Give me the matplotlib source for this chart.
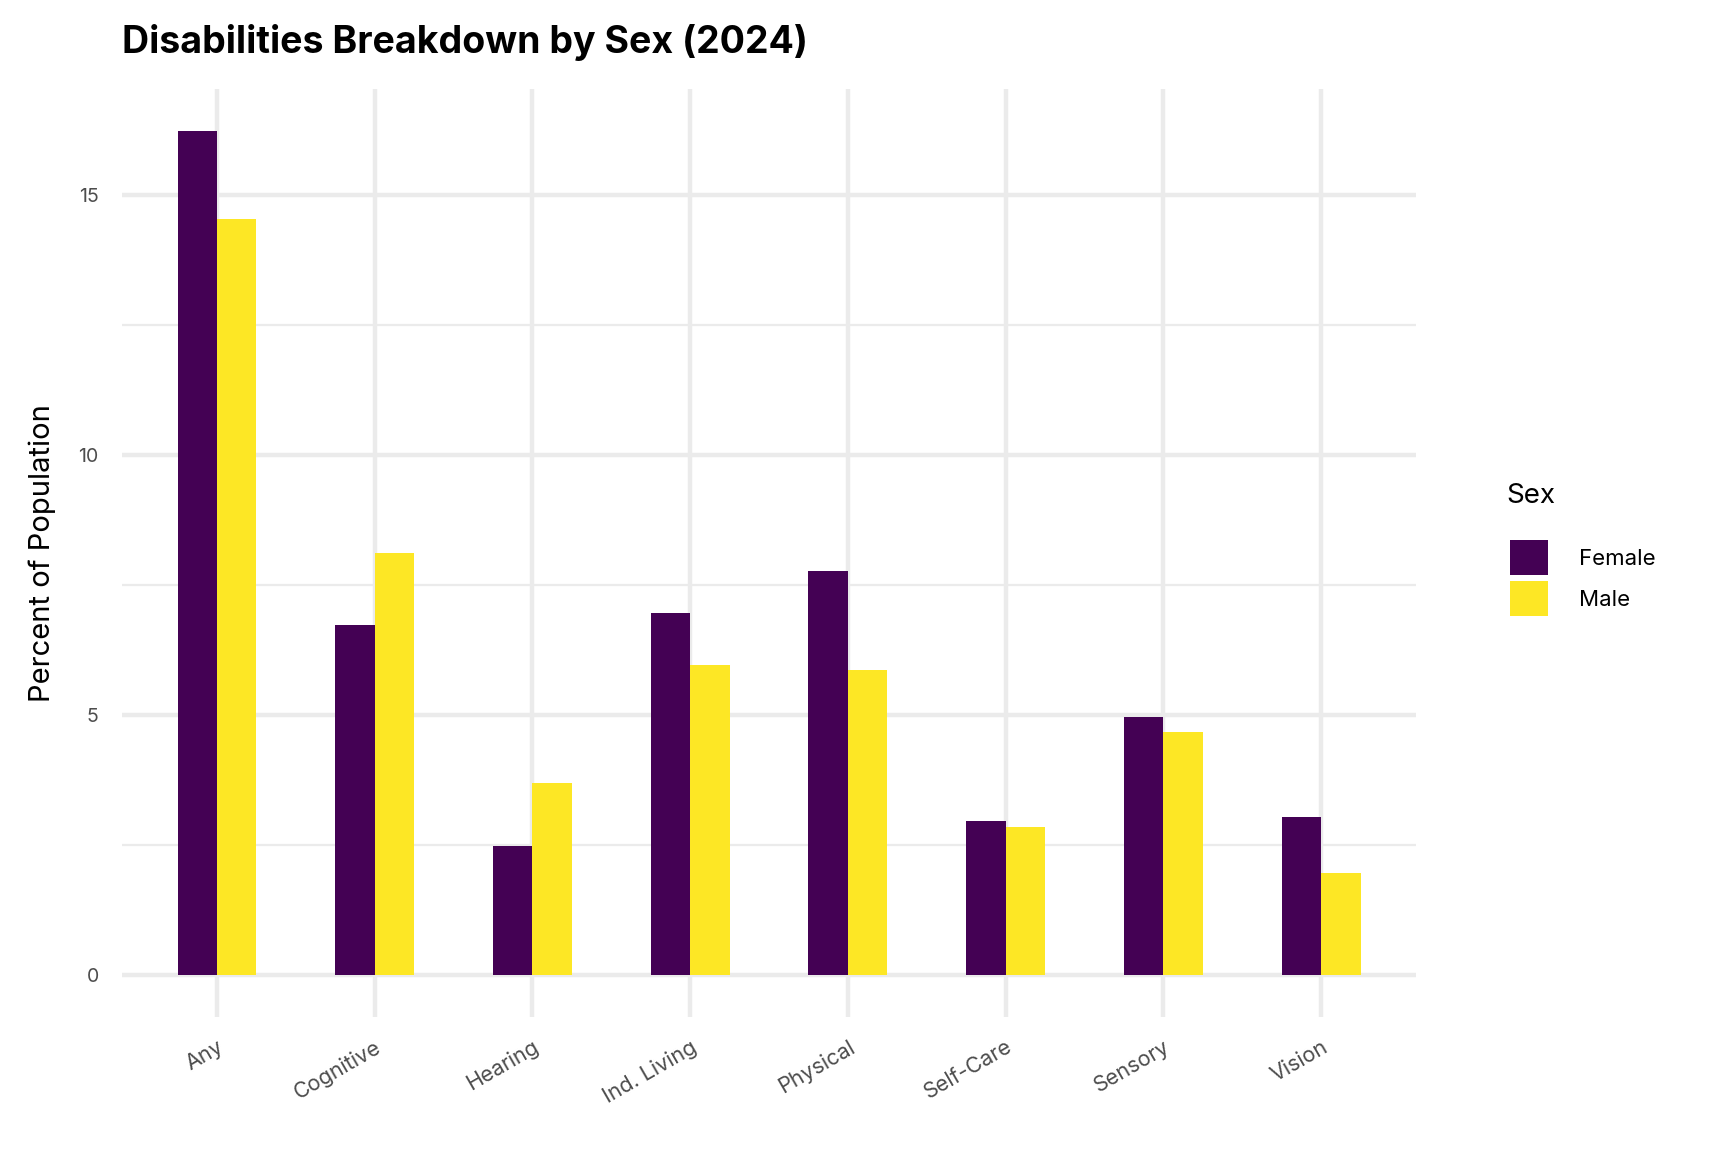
import matplotlib.pyplot as plt
import numpy as np

categories = ['Any', 'Cognitive', 'Hearing', 'Ind. Living', 'Physical', 'Self-Care', 'Sensory', 'Vision']
female = [16.23, 6.73, 2.48, 6.96, 7.77, 2.97, 4.96, 3.03]
male = [14.53, 8.11, 3.69, 5.96, 5.86, 2.84, 4.67, 1.97]
sexes = ['Female', 'Male']
colors = {'Female': '#440154', 'Male': '#FDE725'}

plt.rcParams['font.family'] = ['Inter', 'DejaVu Sans']

fig = plt.figure(figsize=(17.28, 11.52), dpi=100)
ax = fig.add_axes([0.0708, 0.117, 0.7485, 0.806])

x = np.arange(1, len(categories) + 1)
bw = 0.25

ax.bar(x - bw / 2, female, width=bw, color=colors['Female'], label='Female', zorder=3)
ax.bar(x + bw / 2, male, width=bw, color=colors['Male'], label='Male', zorder=3)

ymax = max(max(female), max(male))
ax.set_ylim(-0.05 * ymax, ymax * 1.05)
ax.set_xlim(0.4, len(categories) + 0.6)

# ggplot-ish grid
grid = '#EBEBEB'
for v in [0, 5, 10, 15]:
    ax.axhline(v, color=grid, lw=3.2, zorder=1)
for v in [2.5, 7.5, 12.5]:
    ax.axhline(v, color=grid, lw=1.6, zorder=1)
for xi in x:
    ax.axvline(xi, color=grid, lw=3.2, zorder=1)

ax.set_xticks(x)
ax.set_xticklabels(categories, rotation=30, ha='right', rotation_mode='anchor',
                   fontsize=15.5, color='#4D4D4D')
ax.set_yticks([0, 5, 10, 15])
ax.set_yticklabels(['0', '5', '10', '15'], fontsize=14, color='#4D4D4D')
ax.tick_params(length=0)
ax.tick_params(axis='y', pad=17)
ax.tick_params(axis='x', pad=14)
for s in ax.spines.values():
    s.set_visible(False)

ax.set_ylabel('Percent of Population', fontsize=21, labelpad=16)

fig.text(0.0708, 0.963, 'Disabilities Breakdown by Sex (2024)', fontsize=27,
         fontweight='bold', ha='left', va='center')

# legend
fig.text(0.8715, 0.5695, 'Sex', fontsize=20, ha='left', va='center')
leg = ax.legend(loc='upper left', bbox_to_anchor=(0.874, 0.531),
                bbox_transform=fig.transFigure, frameon=False, fontsize=16,
                handlelength=1.7, handleheight=2.0,
                labelspacing=0.3, handletextpad=1.4, borderaxespad=0, borderpad=0)

fig.savefig('out.png', dpi=100)
